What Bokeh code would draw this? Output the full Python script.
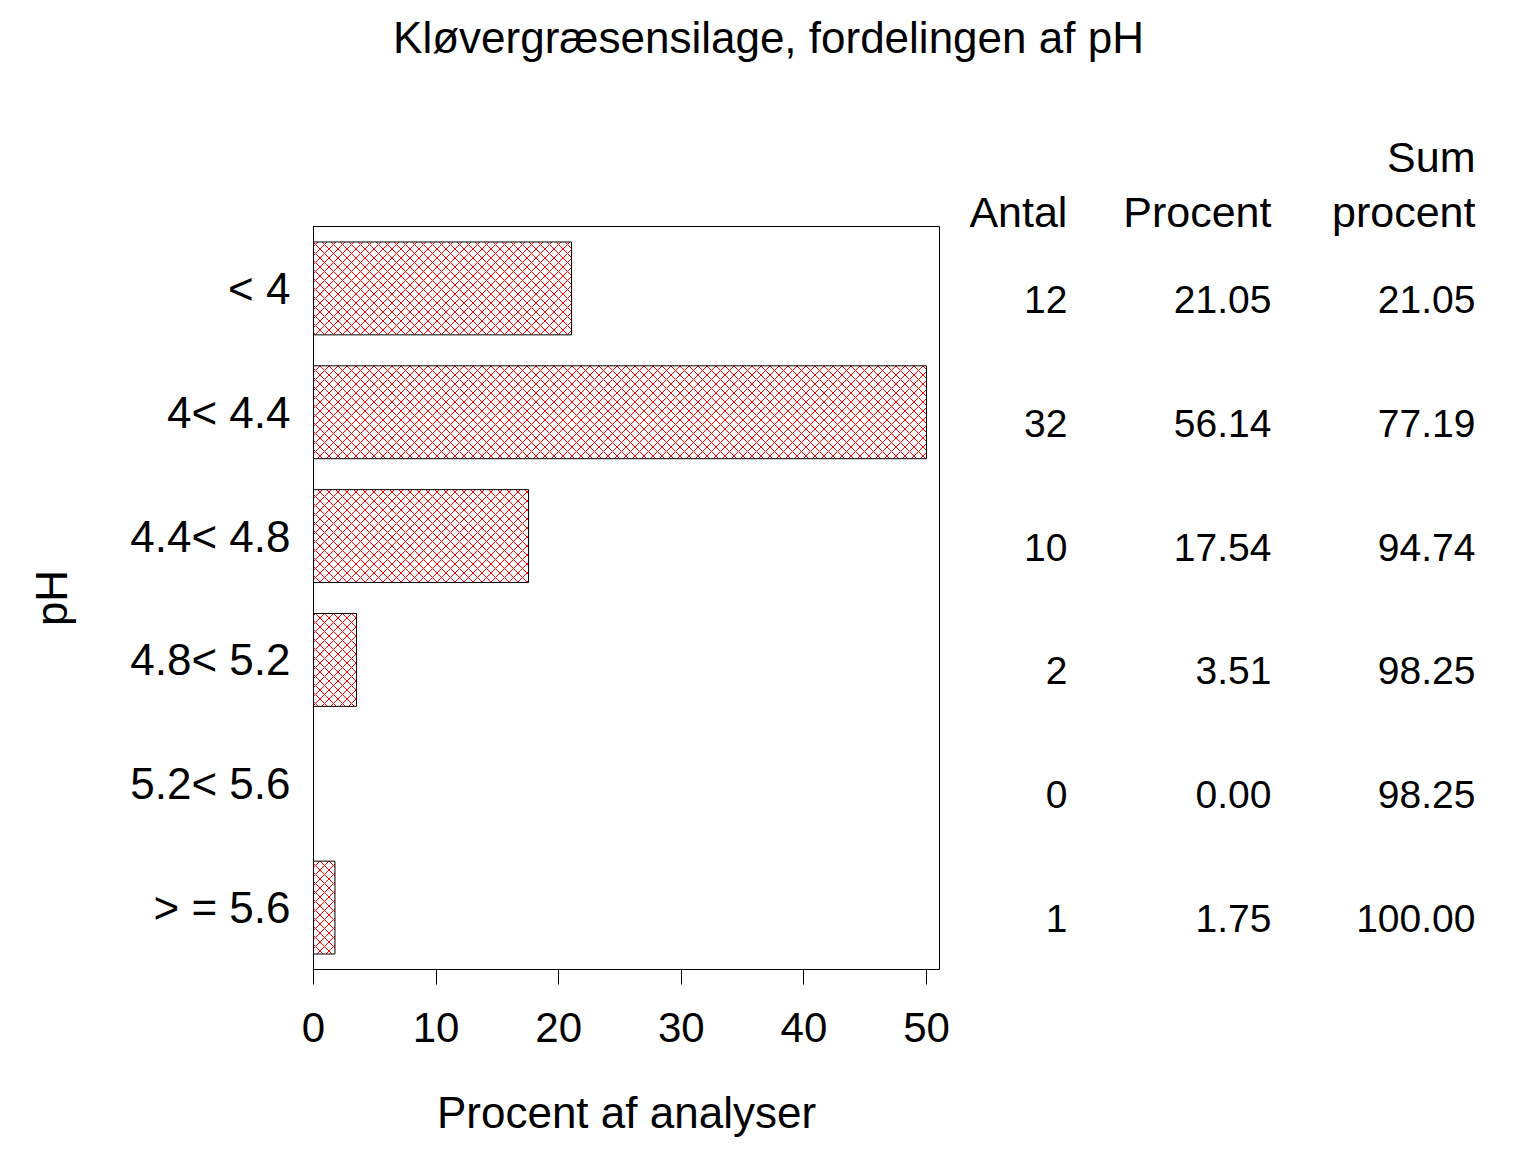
import numpy as np
from bokeh.plotting import figure
from bokeh.layouts import column, row
from bokeh.models import Range1d, FixedTicker, ColumnDataSource, LinearAxis
from bokeh.core.properties import value
from bokeh.embed import file_html
from bokeh.resources import INLINE

# ---- data ----
title_text = "Kløvergræsensilage, fordelingen af pH"
categories = ["< 4", "4< 4.4", "4.4< 4.8", "4.8< 5.2", "5.2< 5.6", "> = 5.6"]
antal = [12, 32, 10, 2, 0, 1]
procent = [21.05, 56.14, 17.54, 3.51, 0.00, 1.75]
sum_procent = [21.05, 77.19, 94.74, 98.25, 98.25, 100.00]
x_ticks = [0, 10, 20, 30, 40, 50]
axis_max = 50
col_headers = ["Antal", "Procent", "procent"]
col_header_top = ["", "", "Sum"]
x_label = "Procent af analyser"
y_label = "pH"

FONT = "Liberation Sans"
FS_TITLE = "44px"
FS_LABEL = "44px"
FS_TICK = "42px"
FS_YTICK = "44px"
HEAD_PX = 43
FS_HEAD = "%dpx" % HEAD_PX
FS_NUM = "39px"

rows = list(range(1, len(categories) + 1))

# Arial / Liberation Sans advance widths (per 1000 em), used to right-align header labels
CHAR_W = {"A": 667, "n": 556, "t": 278, "a": 556, "l": 222, "P": 667, "r": 333, "o": 556,
          "c": 500, "e": 556, "p": 556, "S": 667, "u": 556, "m": 833}


def text_w(s, size):
    return sum(CHAR_W.get(ch, 556) for ch in s) * size / 1000.0


# ---- header (title) ----
head = figure(width=1528, height=100, x_range=Range1d(0, 1528), y_range=Range1d(100, 0),
              output_backend="svg", toolbar_location=None, title=None,
              x_axis_location=None, y_axis_location=None,
              min_border_left=0, min_border_right=0, min_border_top=0, min_border_bottom=0)
head.outline_line_color = None
head.xgrid.visible = False
head.ygrid.visible = False
head.text(x=[768], y=[37], text=[title_text], text_align="center", text_baseline="alphabetic",
          text_font=value(FONT), text_font_size=FS_TITLE, text_color="black")

# ---- bar chart ----
p = figure(width=959, height=1044, x_range=Range1d(0, 51.06), y_range=Range1d(6.5, 0.5),
           output_backend="svg", toolbar_location=None, title=None,
           min_border_left=313, min_border_right=20, min_border_top=126, min_border_bottom=175)
p.xgrid.visible = False
p.ygrid.visible = False
p.outline_line_color = "black"
p.outline_line_width = 1
p.outline_line_alpha = 1.0

bar_src = ColumnDataSource(dict(y=rows, right=list(np.minimum(np.array(procent), axis_max))))
p.hbar(y="y", left=0, right="right", height=0.75, source=bar_src,
       fill_color="white", line_color="black", line_width=1,
       hatch_pattern="x", hatch_color="#ff0000", hatch_scale=9, hatch_weight=1)

xa = p.xaxis[0]
xa.ticker = FixedTicker(ticks=x_ticks)
xa.major_tick_out = 15
xa.major_tick_in = 0
xa.minor_tick_out = 0
xa.minor_tick_in = 0
xa.axis_line_color = "black"
xa.major_tick_line_color = "black"
xa.major_label_text_font = FONT
xa.major_label_text_font_size = FS_TICK
xa.major_label_text_color = "black"
xa.major_label_standoff = 28
xa.axis_label = x_label
xa.axis_label_text_font = FONT
xa.axis_label_text_font_size = FS_LABEL
xa.axis_label_text_font_style = "normal"
xa.axis_label_text_color = "black"
xa.axis_label_standoff = 43

ya = p.yaxis[0]
ya.ticker = FixedTicker(ticks=rows)
ya.major_label_overrides = {r: c for r, c in zip(rows, categories)}
ya.major_tick_out = 0
ya.major_tick_in = 0
ya.minor_tick_out = 0
ya.minor_tick_in = 0
ya.axis_line_color = "black"
ya.major_label_text_font = FONT
ya.major_label_text_font_size = FS_YTICK
ya.major_label_text_color = "black"
ya.major_label_standoff = 23
ya.axis_label = y_label
ya.axis_label_text_font = FONT
ya.axis_label_text_font_size = FS_LABEL
ya.axis_label_text_font_style = "normal"
ya.axis_label_text_color = "black"
ya.axis_label_standoff = 51

# ---- table ----
T_WIDTH = 569
T_X0, T_X1 = -0.529, 2.26
t = figure(width=T_WIDTH, height=1044, x_range=Range1d(T_X0, T_X1), y_range=Range1d(6.5, 0.5),
           output_backend="svg", toolbar_location=None, title=None,
           x_axis_location=None, y_axis_location=None,
           min_border_left=0, min_border_right=0, min_border_top=126, min_border_bottom=175)
t.outline_line_color = None
t.xgrid.visible = False
t.ygrid.visible = False
px_per_col = T_WIDTH / (T_X1 - T_X0)

cols = [[str(a) for a in antal], ["%.2f" % v for v in procent], ["%.2f" % v for v in sum_procent]]
for ci, texts in enumerate(cols):
    t.text(x=[ci] * len(rows), y=rows, text=texts, text_align="right", text_baseline="alphabetic",
           y_offset=11, text_font=value(FONT), text_font_size=FS_NUM, text_color="black")


def header_axis(labels, standoff):
    pos, over = [], {}
    for ci, s in enumerate(labels):
        if not s:
            continue
        c = round(ci - text_w(s, HEAD_PX) / 2.0 / px_per_col, 4)
        pos.append(c)
        over[c] = s
    ax = LinearAxis(ticker=FixedTicker(ticks=pos), major_label_overrides=over)
    ax.axis_line_color = None
    ax.major_tick_line_color = None
    ax.minor_tick_line_color = None
    ax.major_tick_out = 0
    ax.major_tick_in = 0
    ax.minor_tick_out = 0
    ax.minor_tick_in = 0
    ax.major_label_text_font = FONT
    ax.major_label_text_font_size = FS_HEAD
    ax.major_label_text_color = "black"
    ax.major_label_standoff = standoff
    return ax


t.add_layout(header_axis(col_headers, -9), "above")
t.add_layout(header_axis(col_header_top, 4), "above")

layout = column(head, row(p, t, spacing=0), spacing=0)
open("out.html", "w").write(file_html(layout, INLINE))
